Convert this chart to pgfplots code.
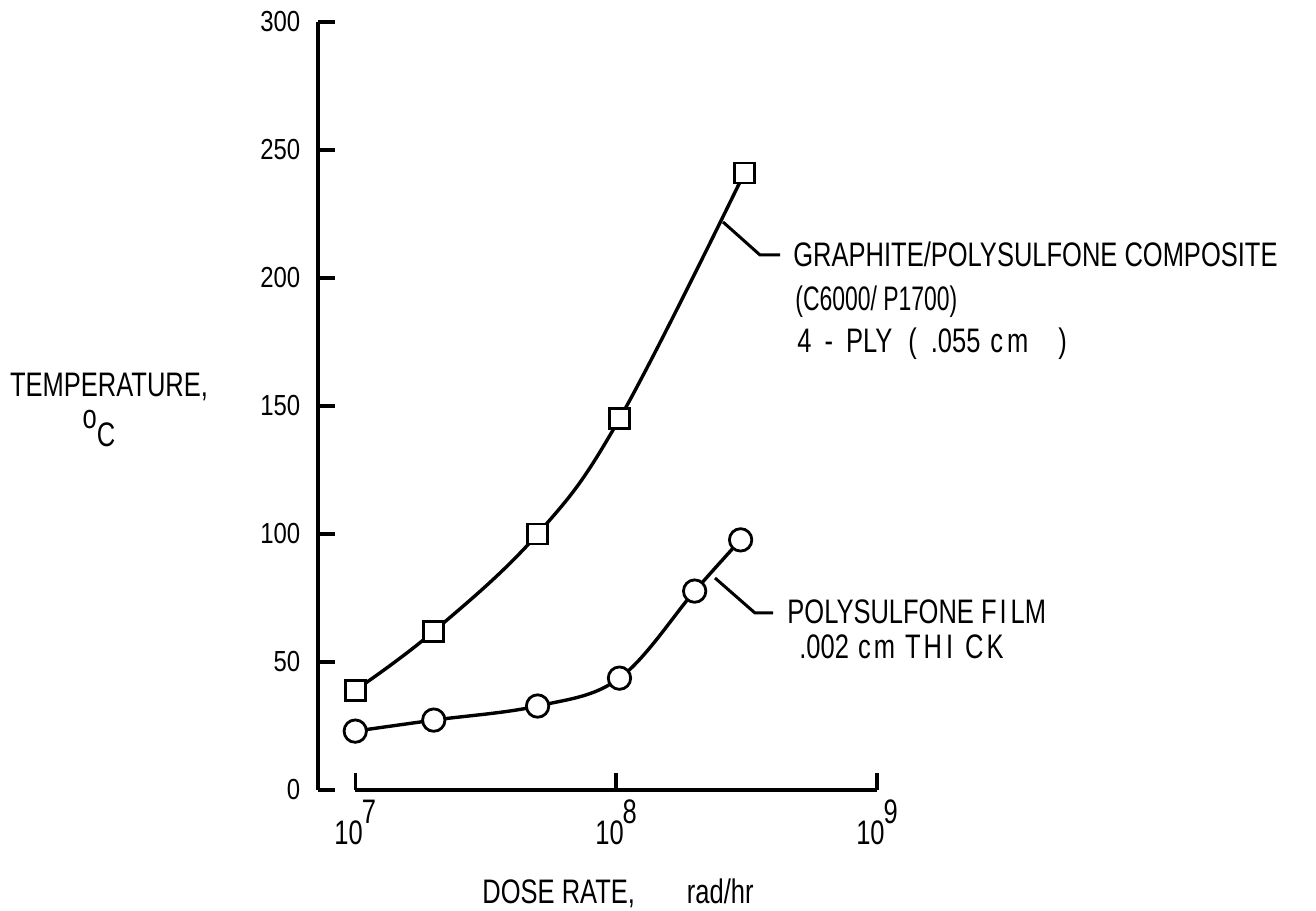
\documentclass[border=0pt]{standalone}
\usepackage{fontspec}
\setmainfont{Liberation Sans}[FakeStretch=0.75]
\usepackage{pgfplots}
\pgfplotsset{compat=1.18}
\begin{document}
\fontsize{17}{20}\selectfont
\begin{tikzpicture}
\begin{axis}[
  at={(0pt,0pt)}, anchor=south west, scale only axis,
  width=279.5pt, height=384pt,
  xmode=log, xmin=7.2e6, xmax=1e9,
  ymin=0, ymax=300,
  axis x line=bottom, axis y line=left,
  axis line style={-, line width=1.7pt},
  x axis line style={draw=none},
  tick align=inside,
  major tick length=8.5pt,
  tick style={line width=1.7pt, black},
  xtick={1e7,1e8,1e9},
  xticklabels={10\kern-0.5pt\raisebox{0.62em}{7}, 10\kern-0.5pt\raisebox{0.62em}{8}, 10\kern-0.5pt\raisebox{0.62em}{9}},
  xticklabel style={yshift=1pt},
  xminorticks=false,
  ytick={0,50,...,300},
  yticklabel={\scalebox{1.1}[1]{\pgfmathprintnumber{\tick}}},
  yticklabel style={xshift=-3pt, font=\fontsize{14.5}{17}\selectfont},
  /pgf/number format/assume math mode=true,
  clip=false,
]
% separate dose-rate axis, starting at 10^7
\draw[line width=1.7pt] (axis cs:1e7,0) -- (axis cs:1e9,0);

% graphite/polysulfone composite
\addplot[line width=1.7pt, smooth, tension=0.65, no marks]
  coordinates {(1e7,39) (2e7,62) (5e7,100) (1.03e8,145) (3.1e8,241)};
\addplot[only marks, mark=square*, mark size=5pt,
  mark options={fill=white, draw=black, line width=1.4pt}]
  coordinates {(1e7,39) (2e7,62) (5e7,100) (1.03e8,145) (3.1e8,241)};

% polysulfone film
\addplot[line width=1.7pt, smooth, tension=0.6, no marks]
  coordinates {(1e7,23) (2e7,27.3) (5e7,32.8) (1.03e8,43.7) (2e8,77.7) (3e8,97.7)};
\addplot[only marks, mark=*, mark size=5.6pt,
  mark options={fill=white, draw=black, line width=1.4pt}]
  coordinates {(1e7,23) (2e7,27.3) (5e7,32.8) (1.03e8,43.7) (2e8,77.7) (3e8,97.7)};
\end{axis}

\begin{scope}[x=0.5pt, y=-0.5pt, shift={(-159pt,395pt)}]
  % curve labels with leader lines
  \draw[line width=1.5pt] (723,222) -- (760,255) -- (780,255);
  \node[anchor=base west, inner sep=0pt] at (793,267) {GRAPHITE/POLYSULFONE COMPOSITE};
  \node[anchor=base west, inner sep=0pt] at (795,311) {\scalebox{0.9}[1]{(C6000/ P1700)}};
  \node[anchor=base west, inner sep=0pt] at (797,353)
    {4\hspace{6.5pt}-\hspace{6.5pt}PLY\hspace{8pt}(\hspace{7pt}.055\hspace{5pt}c\kern2pt m\hspace{15pt})};

  \draw[line width=1.5pt] (715,578) -- (755,613) -- (773,613);
  \node[anchor=base west, inner sep=0pt] at (787,624) {POLYSULFONE F\kern1.5pt I\kern2pt LM};
  \node[anchor=base west, inner sep=0pt] at (799,658)
    {.002\hspace{4.5pt}c\kern1.5pt m\hspace{5pt}T\kern1.5pt H\kern2pt I\kern6pt C\kern1.5pt K};

  % axis titles
  \node[anchor=base, inner sep=0pt] at (109,397) {TEMPERATURE,};
  \node[anchor=base, inner sep=0pt] at (99,447) {\raisebox{0.55em}{o}C};
  \node[anchor=base, inner sep=0pt] at (618,903) {DOSE RATE,\hspace{26pt}rad/hr};

  \path (0,0) rectangle (1316,910);
\end{scope}
\end{tikzpicture}
\end{document}
